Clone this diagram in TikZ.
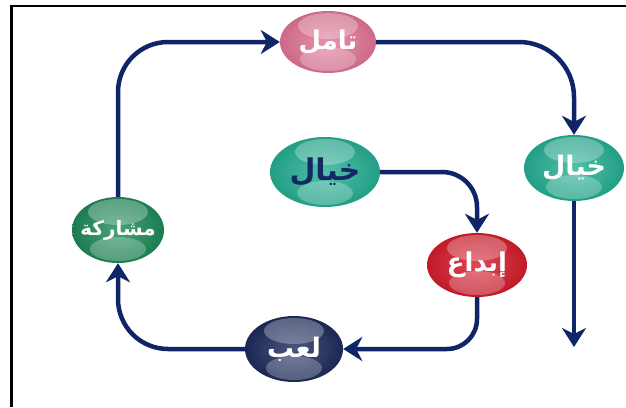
\documentclass[tikz,border=0pt]{standalone}
\usepackage{fontspec}
\newfontfamily\arabicfont[Script=Arabic]{DejaVu Sans}
\TeXXeTstate=1
\usetikzlibrary{arrows.meta,shapes.geometric}
\definecolor{navyline}{RGB}{14,38,104}
\definecolor{cpink}{RGB}{226,118,150}
\definecolor{cteal}{RGB}{38,176,148}
\definecolor{cred}{RGB}{214,28,44}
\definecolor{cgreen}{RGB}{30,138,88}
\definecolor{cnavy}{RGB}{30,44,92}
\definecolor{ctext}{RGB}{20,40,100}
\tikzset{
  ball/.style={ellipse, inner sep=-20bp, draw=none,
    shading=radial, inner color=#1!80!white, outer color=#1!90!black,
    text=white,
    path picture={
      \fill[white, opacity=0.28] ([yshift=-15bp]path picture bounding box.north) ellipse (30bp and 13bp);
      \fill[white, opacity=0.25] ([yshift=14bp]path picture bounding box.south) ellipse (28bp and 12bp);
    }},
  conn/.style={draw=navyline, line width=4.5bp, -{Stealth[length=19bp,width=24bp,inset=6bp]}},
  ar/.style={font=\arabicfont\bfseries\fontsize{#1}{#1}\selectfont}
}
\begin{document}
\begin{tikzpicture}[x=1bp,y=-1bp]
\useasboundingbox (0,0) rectangle (626,407);
\fill[white] (0,0) rectangle (626,407);
\draw[line width=2.5bp, line join=miter] (11.5,407) -- (11.5,6) -- (626,6);

\node[ball=cpink, minimum width=96bp, minimum height=62bp, ar=26] (t) at (328,42) {\beginR تامل\endR};
\node[ball=cteal, minimum width=110bp, minimum height=70bp, ar=30, text=ctext] (k1) at (325,172) {\beginR خيال\endR};
\node[ball=cteal, minimum width=100bp, minimum height=66bp, ar=27] (k2) at (574,168) {\beginR خيال\endR};
\node[ball=cred, minimum width=100bp, minimum height=64bp, ar=26] (b) at (477,265) {\beginR إبداع\endR};
\node[ball=cgreen, minimum width=92bp, minimum height=66bp, ar=20] (m) at (118,230) {\beginR مشاركة\endR};
\node[ball=cnavy, minimum width=98bp, minimum height=66bp, ar=27] (l) at (294,349) {\beginR لعب\endR};
\coordinate (end) at (574,347);

\draw[conn, rounded corners=50bp] (m.north) |- (t.west);
\draw[conn, rounded corners=55bp] (t.east) -| (k2.north);
\draw[conn] (k2.south) -- (end);
\draw[conn, rounded corners=35bp] (k1.east) -| (b.north);
\draw[conn, rounded corners=30bp] (b.south) |- (l.east);
\draw[conn, rounded corners=50bp] (l.west) -| (m.south);
\end{tikzpicture}
\end{document}
